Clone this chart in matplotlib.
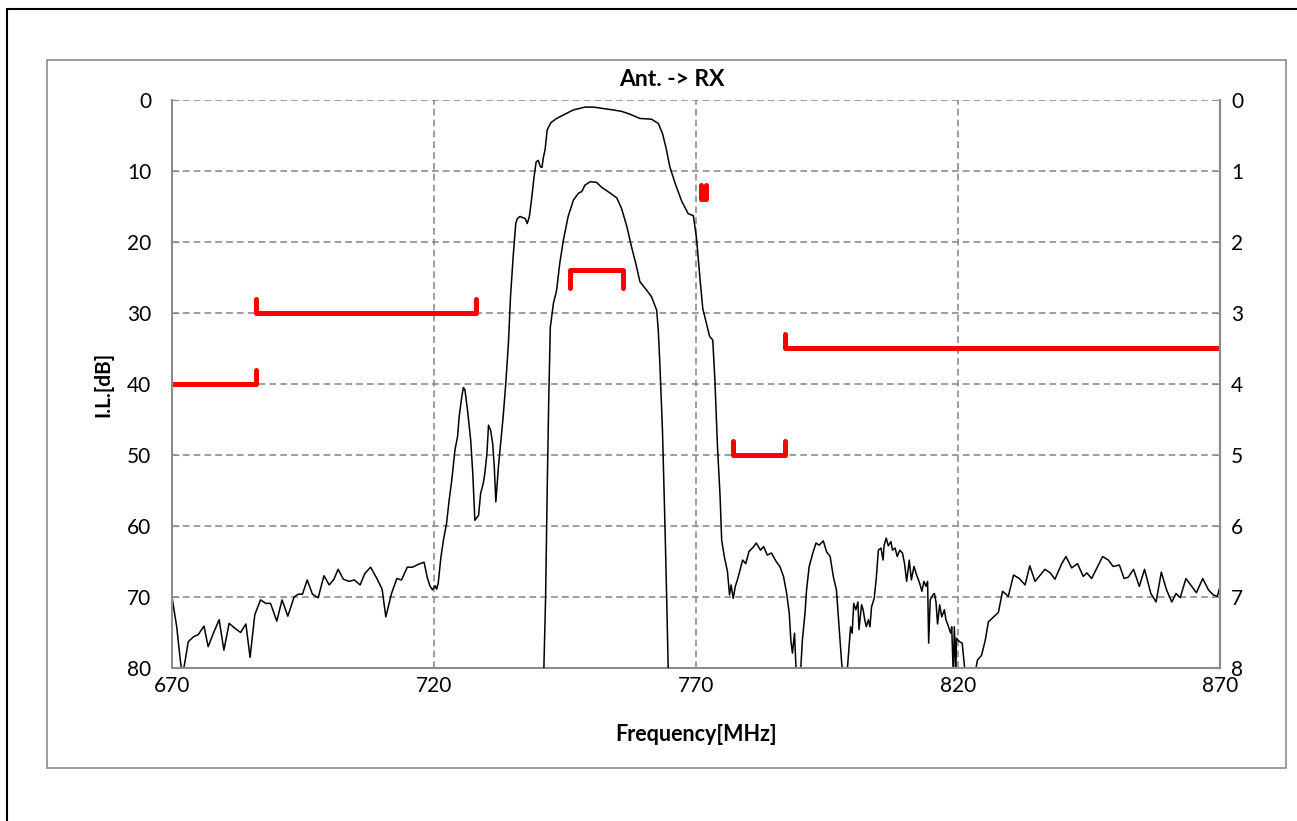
import matplotlib
matplotlib.use('Agg')
import matplotlib.pyplot as plt
from matplotlib.patches import Rectangle

# wideband attenuation, Ant -> RX (left axis, dB)
wb_freq = [670.0, 670.9, 671.6, 672.0, 672.5, 673.1, 674.1, 675.0, 676.1, 676.9,
           677.9, 679.0, 679.9, 680.9, 682.0, 683.1, 684.1, 684.9, 685.8, 686.9,
           687.9, 688.8, 690.0, 691.0, 692.1, 693.3, 694.1, 694.9, 695.8, 696.8,
           697.9, 699.0, 700.0, 700.9, 701.7, 702.7, 703.8, 704.8, 705.9, 706.8,
           707.9, 709.1, 710.1, 710.8, 711.9, 712.9, 713.8, 714.9, 715.9, 717.0,
           718.1, 718.7, 719.2, 719.7, 720.2, 720.5, 720.8, 721.3, 721.8, 722.4,
           722.9, 723.4, 724.0, 724.5, 724.8, 725.3, 725.6, 725.9, 726.4, 727.0,
           727.4, 727.8, 728.5, 728.9, 729.4, 729.7, 730.1, 730.4, 730.8, 731.2,
           731.5, 731.8, 732.3, 732.6, 733.2, 733.7, 734.2, 734.6, 735.1, 735.6,
           735.9, 736.4, 737.4, 737.8, 738.2, 738.6, 739.1, 739.5, 739.9, 740.3,
           740.6, 740.9, 741.2, 741.6, 742.3, 743.4, 744.7, 746.6, 748.8, 750.4,
           752.3, 754.2, 755.8, 757.4, 759.3, 761.5, 762.8, 763.6, 764.3, 765.0,
           766.0, 767.3, 768.5, 769.5, 770.1, 770.8, 771.3, 772.0, 772.6, 773.2,
           773.6, 774.1, 774.6, 774.9, 775.4, 775.8, 776.0, 776.4, 776.7, 777.1,
           777.5, 777.9, 778.4, 778.9, 779.5, 780.1, 780.9, 781.5, 782.3, 782.9,
           783.6, 784.4, 785.3, 786.0, 786.7, 787.3, 787.8, 788.1, 788.4, 788.8,
           789.1, 789.5, 790.0, 790.3, 790.8, 791.1, 791.6, 792.3, 792.9, 793.5,
           794.3, 794.9, 795.6, 796.2, 796.8, 797.3, 797.8, 798.1, 798.5, 798.8,
           799.2, 799.5, 799.8, 800.1, 800.5, 800.9, 801.1, 801.6, 801.9, 802.2,
           802.5, 802.9, 803.2, 803.5, 804.0, 804.4, 804.8, 805.3, 805.7, 805.9,
           806.3, 806.7, 807.2, 807.5, 808.0, 808.4, 808.9, 809.4, 809.8, 810.2,
           810.7, 811.1, 811.6, 812.1, 812.7, 813.1, 813.5, 813.9, 814.2, 814.4,
           814.7, 815.2, 815.5, 815.8, 816.1, 816.5, 816.9, 817.4, 817.7, 818.2,
           818.6, 818.8, 819.1, 819.3, 819.6, 819.7, 820.3, 820.8, 821.4, 822.3,
           823.2, 823.7, 824.5, 825.2, 825.8, 826.8, 827.7, 828.5, 829.6, 830.6,
           831.7, 832.8, 833.7, 834.7, 836.6, 837.6, 838.5, 839.8, 840.6, 841.7,
           842.8, 843.9, 844.6, 845.5, 847.6, 848.7, 849.6, 850.8, 851.7, 852.5,
           853.5, 854.6, 855.6, 856.8, 857.8, 858.8, 859.8, 860.8, 861.6, 862.4,
           863.5, 864.6, 865.5, 866.7, 867.8, 868.7, 869.5, 870.0]
wb_db = [70.0, 74.2, 79.0, 81.0, 79.0, 76.3, 75.6, 75.3, 74.1, 77.0,
         75.1, 73.2, 77.5, 73.7, 74.4, 75.0, 73.8, 78.5, 72.5, 70.4,
         70.9, 70.9, 73.4, 70.4, 72.7, 70.0, 69.6, 69.6, 67.6, 69.6,
         70.1, 67.0, 68.3, 67.5, 66.1, 67.5, 67.8, 67.6, 68.3, 66.7,
         65.8, 67.4, 68.9, 72.8, 69.5, 67.4, 67.6, 65.8, 65.8, 65.4,
         65.1, 67.2, 68.4, 69.0, 68.4, 68.9, 68.1, 64.5, 62.0, 59.6,
         56.3, 53.5, 49.3, 47.4, 44.6, 41.8, 40.5, 40.8, 43.7, 47.9,
         52.6, 59.2, 58.5, 55.4, 54.0, 52.6, 49.8, 45.8, 46.5, 48.4,
         51.6, 56.6, 51.6, 49.3, 44.6, 39.9, 34.3, 27.7, 22.1, 17.4,
         16.7, 16.4, 16.7, 17.4, 16.4, 14.1, 10.8, 8.7, 8.5, 9.4,
         9.5, 8.0, 7.0, 4.2, 3.2, 2.6, 2.1, 1.4, 1.0, 1.0,
         1.2, 1.4, 1.6, 2.0, 2.6, 2.7, 3.3, 4.7, 6.8, 9.4,
         11.7, 14.3, 16.0, 16.3, 19.5, 25.5, 29.4, 31.5, 33.3, 33.8,
         39.4, 48.8, 55.9, 62.0, 64.3, 65.7, 66.4, 69.7, 68.3, 70.2,
         68.5, 67.6, 66.2, 64.8, 65.3, 63.6, 63.0, 62.4, 63.4, 62.9,
         64.1, 63.8, 65.0, 65.7, 67.1, 69.5, 72.3, 76.1, 77.9, 75.1,
         80.3, 85.0, 80.0, 76.1, 72.3, 69.0, 65.7, 63.8, 62.4, 62.7,
         62.1, 63.6, 64.3, 67.1, 69.0, 74.2, 79.3, 81.0, 85.0, 81.0,
         77.0, 74.2, 75.1, 70.9, 71.8, 70.7, 74.6, 71.1, 71.8, 73.2,
         74.2, 73.2, 74.2, 71.4, 70.2, 67.4, 63.4, 63.1, 64.8, 62.7,
         61.7, 62.8, 62.2, 63.4, 63.1, 64.3, 63.4, 63.8, 65.3, 67.8,
         64.8, 67.6, 65.7, 66.9, 68.1, 69.2, 67.8, 68.5, 67.8, 76.5,
         70.4, 69.7, 69.5, 70.7, 73.8, 71.1, 72.8, 71.8, 73.2, 74.2,
         75.1, 74.2, 81.0, 74.2, 81.0, 75.8, 76.3, 76.5, 81.0, 86.0,
         81.0, 78.9, 78.2, 76.1, 73.5, 72.8, 72.2, 69.2, 69.9, 66.9,
         67.4, 68.3, 65.6, 67.8, 66.1, 66.6, 67.5, 65.3, 64.3, 65.9,
         65.3, 67.1, 66.6, 67.4, 64.3, 64.8, 65.7, 65.5, 67.4, 67.2,
         66.1, 68.5, 66.1, 69.5, 70.7, 66.5, 69.0, 70.7, 69.5, 70.1,
         67.4, 68.5, 69.4, 67.4, 69.0, 69.7, 69.9, 68.5]

# passband insertion loss (right axis, dB)
pb_freq = [740.9, 741.3, 741.6, 741.9, 742.2, 742.8, 743.4, 743.7, 744.0, 744.7,
           745.6, 746.6, 747.6, 748.2, 748.8, 749.8, 751.0, 752.0, 753.6, 754.9,
           755.8, 756.8, 757.7, 758.5, 759.3, 760.6, 761.5, 762.5, 762.8, 763.1,
           763.6, 764.1, 764.4, 764.7, 764.8]
pb_il = [8.2, 7.0, 5.5, 4.2, 3.2, 2.86, 2.68, 2.49, 2.30, 1.97,
         1.64, 1.41, 1.31, 1.29, 1.20, 1.15, 1.16, 1.23, 1.31, 1.38,
         1.53, 1.78, 2.07, 2.30, 2.56, 2.68, 2.77, 2.96, 3.24, 3.71,
         4.65, 6.06, 7.0, 8.03, 8.5]

# attenuation spec limits (left axis)
spec_start = [670, 686, 771, 777, 787]
spec_stop = [686, 728, 772, 787, 870]
spec_level = [40, 30, 14, 50, 35]
spec_tick_left = [False, True, True, True, True]
spec_tick_right = [True, True, True, True, False]

# insertion loss spec (right axis)
il_start = 746
il_stop = 756
il_level = 2.4

fig = plt.figure(figsize=(12.97, 8.21), dpi=100)
plt.rcParams['font.family'] = ['Lato', 'DejaVu Sans']

# outer frames
fig.add_artist(Rectangle((7 / 1297, -0.1), 1.2, 1 - 9 / 821 + 0.1, transform=fig.transFigure,
                         fill=False, edgecolor='black', linewidth=1.5))
fig.add_artist(Rectangle((47 / 1297, 1 - 768 / 821), (1286 - 47) / 1297, (768 - 60) / 821,
                         transform=fig.transFigure, fill=False, edgecolor='#8c8c8c', linewidth=1.2))

ax = fig.add_axes([172 / 1297, 1 - 668 / 821, 1048 / 1297, 568 / 821])
ax2 = ax.twinx()

gray = '#8c8c8c'
ax.plot(wb_freq, wb_db, color='black', linewidth=1.1)
for f1, f2, lev, tl, tr in zip(spec_start, spec_stop, spec_level, spec_tick_left, spec_tick_right):
    xs = [f1, f2]
    ys = [lev, lev]
    if tl:
        xs = [f1] + xs
        ys = [lev - 2] + ys
    if tr:
        xs = xs + [f2]
        ys = ys + [lev - 2]
    ax.plot(xs, ys, color='red', linewidth=3.6, solid_capstyle='round', solid_joinstyle='round')

ax2.plot(pb_freq, pb_il, color='black', linewidth=1.1)
ax2.plot([il_start, il_start, il_stop, il_stop], [il_level + 0.25, il_level, il_level, il_level + 0.25],
         color='red', linewidth=3.6, solid_capstyle='round', solid_joinstyle='round')

ax.set_xlim(670, 870)
ax.set_ylim(80, 0)
ax2.set_ylim(8, 0)
ax.set_xticks([670, 720, 770, 820, 870])
ax.set_yticks(range(0, 81, 10))
ax2.set_yticks(range(0, 9))

ax.grid(True, linestyle=(0, (4, 2.5)), color=gray, linewidth=1.2)
ax.set_axisbelow(True)

for a in (ax, ax2):
    for s in a.spines.values():
        s.set_color(gray)
        s.set_linewidth(1.5)
    a.spines['top'].set_visible(False)
ax2.spines['left'].set_visible(False)
ax2.spines['bottom'].set_visible(False)

ax.tick_params(axis='y', direction='in', length=5, color=gray, labelsize=15, pad=15)
ax.tick_params(axis='x', direction='in', length=0, labelsize=15, pad=6)
ax2.tick_params(axis='y', direction='in', length=5, color=gray, labelsize=15, pad=8)

ax.set_xlabel('Frequency[MHz]', fontsize=15.5, fontweight='bold')
ax.xaxis.set_label_coords(0.5, -0.098)
ax.set_ylabel('I.L.[dB]', fontsize=15, fontweight='bold')
ax.yaxis.set_label_coords(-0.056, 0.5)
fig.text(672 / 1297, 1 - 80 / 821, 'Ant. -> RX', fontsize=16.5, fontweight='bold',
         ha='center', va='center')

plt.savefig('out.png', dpi=100)
